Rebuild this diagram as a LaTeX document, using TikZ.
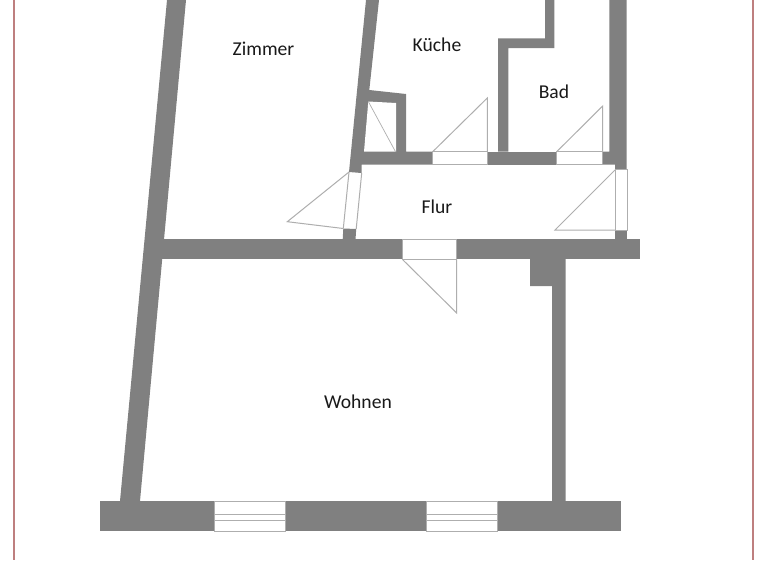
\documentclass[tikz,border=0pt]{standalone}
\usepackage{fontspec}
\setmainfont{Carlito}
\tikzset{
  wall/.style={fill=wallgray,draw=none},
  thinline/.style={draw=linegray,line width=1pt,line join=miter},
  frameline/.style={draw=framered,line width=1.8pt},
  room/.style={font=\fontsize{19.6}{21}\selectfont,text=black!90,inner sep=0pt}
}
\definecolor{wallgray}{HTML}{808080}
\definecolor{linegray}{HTML}{AEAEAE}
\definecolor{framered}{HTML}{BE7F7F}
\begin{document}
\begin{tikzpicture}[x=1pt,y=-1pt]
\useasboundingbox (0,0) rectangle (768,560);
\fill[white] (0,0) rectangle (768,560);
% frame
\draw[frameline] (14,0) -- (14,560);
\draw[frameline] (753,0) -- (753,560);
% outer left wall
\fill[wall] (167,0) -- (186,0) -- (140,501) -- (120,501) -- cycle;
% bottom wall with windows
\fill[wall] (100,501) rectangle (214,531);
\fill[wall] (285.5,501) rectangle (426,531);
\fill[wall] (497,501) rectangle (621,531);
\foreach \xa/\xb in {214/285.5,426/497}{
  \draw[thinline] (\xa,501) rectangle (\xb,531);
  \draw[thinline] (\xa,514) -- (\xb,514);
  \draw[thinline] (\xa,520.7) -- (\xb,520.7);
}
% middle horizontal wall
\fill[wall] (146,239.3) rectangle (402.3,259.3);
\fill[wall] (456.7,239.3) rectangle (640,259.3);
% wall down to the bottom, with stub
\fill[wall] (530,259) -- (565.5,259) -- (565.5,501) -- (552,501) -- (552,286) -- (530,286) -- cycle;
% entry door
\draw[thinline] (402.3,239.3) rectangle (456.7,259.3);
\draw[thinline] (402.3,259.3) -- (456.7,313) -- (456.7,259.3);
% Zimmer / Kueche wall
\fill[wall] (366,0) -- (379,0) -- (369.3,90) -- (406,94) -- (406,151.7) -- (432.7,151.7)
  -- (432.7,164.7) -- (361.7,164.7) -- (361.7,173) -- (349,172) -- cycle;
% niche interior
\fill[white] (368.3,101.5) -- (396,103) -- (396,151.7) -- (364,151.7) -- cycle;
\draw[thinline,line width=0.7pt] (368.3,101.5) -- (395.5,151.7);
% lower jamb
\fill[wall] (343.3,228.5) -- (356.2,229) -- (355.5,239.5) -- (342.7,239.5) -- cycle;
% Zimmer door
\draw[thinline] (349,172) -- (343.3,228.5) (361.7,173) -- (356.2,229);
\draw[thinline] (349,172) -- (287.3,221.7) -- (343.3,228.5);
% corridor top wall
\fill[wall] (487.3,151.7) rectangle (556.7,164.7);
\fill[wall] (602.7,151.7) -- (609.3,151.7) -- (609.3,0) -- (626.7,0) -- (626.7,169) -- (615,169) -- (615,164.7) -- (602.7,164.7) -- cycle;
% Kueche door
\draw[thinline] (432.7,151.7) rectangle (487.3,164.7);
\draw[thinline] (432.7,151.7) -- (487.3,98) -- (487.3,151.7);
% Bad door
\draw[thinline] (556.7,151.7) rectangle (602.7,164.7);
\draw[thinline] (556.7,151.7) -- (602.7,106) -- (602.7,151.7);
% Kueche / Bad wall
\fill[wall] (498,151.7) -- (498,38.3) -- (545,38.3) -- (545,0) -- (554.3,0) -- (554.3,48) -- (508.3,48) -- (508.3,151.7) -- cycle;
% Flur door at right
\fill[wall] (615,230) rectangle (627,239.5);
\draw[thinline] (615,169) rectangle (627,230);
\draw[thinline] (615,170) -- (555,230) -- (615,230);
% labels
\node[room] (zimmer) at (263.5,49) {Zimmer};
\node[room] (kueche) at (437,44.5) {Küche};
\node[room] (bad) at (554,92) {Bad};
\node[room] (flur) at (437,207) {Flur};
\node[room] (wohnen) at (358,402) {Wohnen};
\end{tikzpicture}
\end{document}
